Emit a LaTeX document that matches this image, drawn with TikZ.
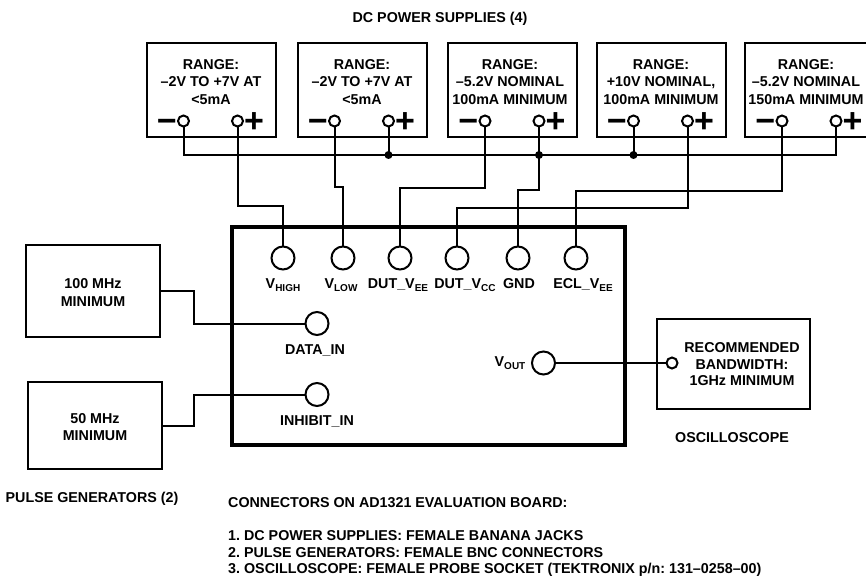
\documentclass[tikz,border=0pt]{standalone}
\usepackage{fontspec}
\setmainfont{Liberation Sans}
\usetikzlibrary{positioning}

\newcommand{\lowsub}[1]{\raisebox{-3.5pt}{\fontsize{10}{10}\selectfont #1}}

\begin{document}
\frenchspacing
\begin{tikzpicture}[
  x=1pt, y=-1pt,
  font=\fontsize{14.3}{17.5}\selectfont\bfseries,
  wire/.style={line width=2pt},
  supply/.style={draw, line width=2pt, minimum width=129pt,
                 minimum height=94pt, inner sep=0pt},
  pulsegen/.style={draw, line width=2pt, minimum width=134pt, inner sep=0pt},
  bjack/.style={circle, draw, line width=2pt, minimum size=23pt, inner sep=0pt},
  pjack/.style={circle, draw, line width=2pt, minimum size=11pt, inner sep=0pt},
  sign/.style={font=\fontsize{34}{34}\selectfont\bfseries, inner sep=0pt,
               text height=24pt, text depth=0pt},
  lbl/.style={inner sep=0pt, anchor=base},
  note/.style={inner sep=0pt, anchor=base west},
  rng/.style={align=center, inner sep=0pt},
  dot/.style={circle, fill, inner sep=0pt, minimum size=8pt},
]
\useasboundingbox (0,0) rectangle (866,577);

% -------------------------------------------------------------------------
% DC power supplies with their banana jacks
% -------------------------------------------------------------------------
\node[lbl] (title) at (440,23) {DC POWER SUPPLIES (4)};

\foreach \n/\cx in {1/211,2/362,3/512.5,4/661,5/809.5} {
  \node[supply] (ps\n) at (\cx,90) {};
  \node[pjack] (neg\n) at ({\cx-27.5},121) {};
  \node[pjack] (pos\n) at ({\cx+26.5},121) {};
  \node[sign, anchor=east] (minus\n) at (neg\n.west) {−};
  \node[sign, anchor=west] (plus\n) at (pos\n.east) {+};
}
\node[rng] (range1) at (211,82) {RANGE:\\–2V TO +7V AT\\<5mA};
\node[rng] (range2) at (362,82) {RANGE:\\–2V TO +7V AT\\<5mA};
\node[rng] (range3) at (510,82) {RANGE:\\–5.2V NOMINAL\\100mA MINIMUM};
\node[rng] (range4) at (661,82) {RANGE:\\+10V NOMINAL,\\100mA MINIMUM};
\node[rng] (range5) at (806,82) {RANGE:\\–5.2V NOMINAL\\150mA MINIMUM};

% -------------------------------------------------------------------------
% Evaluation board and its connectors
% -------------------------------------------------------------------------
\node[draw, line width=4.5pt, minimum width=393pt, minimum height=218pt]
  (board) at (428.5,336) {};

\node[bjack] (vhigh)  at (283,258) {};
\node[bjack] (vlow)   at (343,258) {};
\node[bjack] (dutvee) at (400,258) {};
\node[bjack] (dutvcc) at (457,258) {};
\node[bjack] (gnd)    at (518,258) {};
\node[bjack] (eclvee) at (576,258) {};
\node[lbl] (vhighlbl)  at (283,288) {V\lowsub{HIGH}};
\node[lbl] (vlowlbl)   at (341,288) {V\lowsub{LOW}};
\node[lbl] (dutveelbl) at (398,288) {DUT\_V\lowsub{EE}};
\node[lbl] (dutvcclbl) at (465,288) {DUT\_V\lowsub{CC}};
\node[lbl] (gndlbl)    at (519,288) {GND};
\node[lbl] (eclveelbl) at (583,288) {ECL\_V\lowsub{EE}};

\node[bjack] (datain)  at (317,323.5) {};
\node[bjack] (inhibit) at (317,394.5) {};
\node[bjack] (vout)    at (543.5,363) {};
\node[lbl] (datainlbl)  at (315,354) {DATA\_IN};
\node[lbl] (inhibitlbl) at (317,425) {INHIBIT\_IN};
\node[lbl] (voutlbl)    at (510,366) {V\lowsub{OUT}};

% supply wiring: common bus and the six board jacks
\coordinate (bus) at (0,155);
\draw[wire] (neg1.south) |- (pos5 |- bus) -- (pos5.south);
\draw[wire] (pos2.south) -- (pos2 |- bus);
\draw[wire] (neg4.south) -- (neg4 |- bus);
\draw[wire] (pos3.south) -- (pos3 |- 0,190) -| (gnd.north);
\draw[wire] (pos1.south) -- (pos1 |- 0,206) -| (vhigh.north);
\draw[wire] (neg2.south) -- (neg2 |- 0,187) -| (vlow.north);
\draw[wire] (neg3.south) -- (neg3 |- 0,188) -| (dutvee.north);
\draw[wire] (pos4.south) -- (pos4 |- 0,208) -| (dutvcc.north);
\draw[wire] (neg5.south) -- (neg5 |- 0,191) -| (eclvee.north);
\foreach \j in {pos2,pos3,neg4}
  \node[dot] (dot\j) at (\j |- bus) {};

% -------------------------------------------------------------------------
% Pulse generators
% -------------------------------------------------------------------------
\node[pulsegen, minimum height=92pt] (gen1) at (93,291) {};
\node[rng] (gen1txt) at (93,292.5) {100 MHz\\MINIMUM};
\node[pulsegen, minimum height=87pt] (gen2) at (95,425.5) {};
\node[rng] (gen2txt) at (95,427) {50 MHz\\MINIMUM};
\node[lbl] (genlbl) at (92,502) {PULSE GENERATORS (2)};

\coordinate (jog1) at (194,307);
\coordinate (jog2) at (194,410);
\draw[wire] (gen1.east) -| (jog1) |- (datain.west);
\draw[wire] (gen2.east) -| (jog2) |- (inhibit.west);

% -------------------------------------------------------------------------
% Oscilloscope
% -------------------------------------------------------------------------
\node[draw, line width=2pt, minimum width=153pt, minimum height=90pt]
  (scope) at (733.5,364) {};
\node[pjack] (probe) at (672,363) {};
\node[rng, font=\fontsize{14.3}{16.5}\selectfont\bfseries] (scopetxt)
  at (742,364.5) {RECOMMENDED\\BANDWIDTH:\\1GHz MINIMUM};
\node[lbl] (scopelbl) at (732,442) {OSCILLOSCOPE};
\draw[wire] (vout.east) -- (probe.west);

% -------------------------------------------------------------------------
% Notes
% -------------------------------------------------------------------------
\node[note] (notehead) at (228,507) {CONNECTORS ON AD1321 EVALUATION BOARD:};
\node[note] (note1) at (228,540) {1. DC POWER SUPPLIES: FEMALE BANANA JACKS};
\node[note] (note2) at (228,557) {2. PULSE GENERATORS: FEMALE BNC CONNECTORS};
\node[note] (note3) at (228,573)
  {3. OSCILLOSCOPE: FEMALE PROBE SOCKET (TEKTRONIX p/n: 131–0258–00)};

\end{tikzpicture}
\end{document}
